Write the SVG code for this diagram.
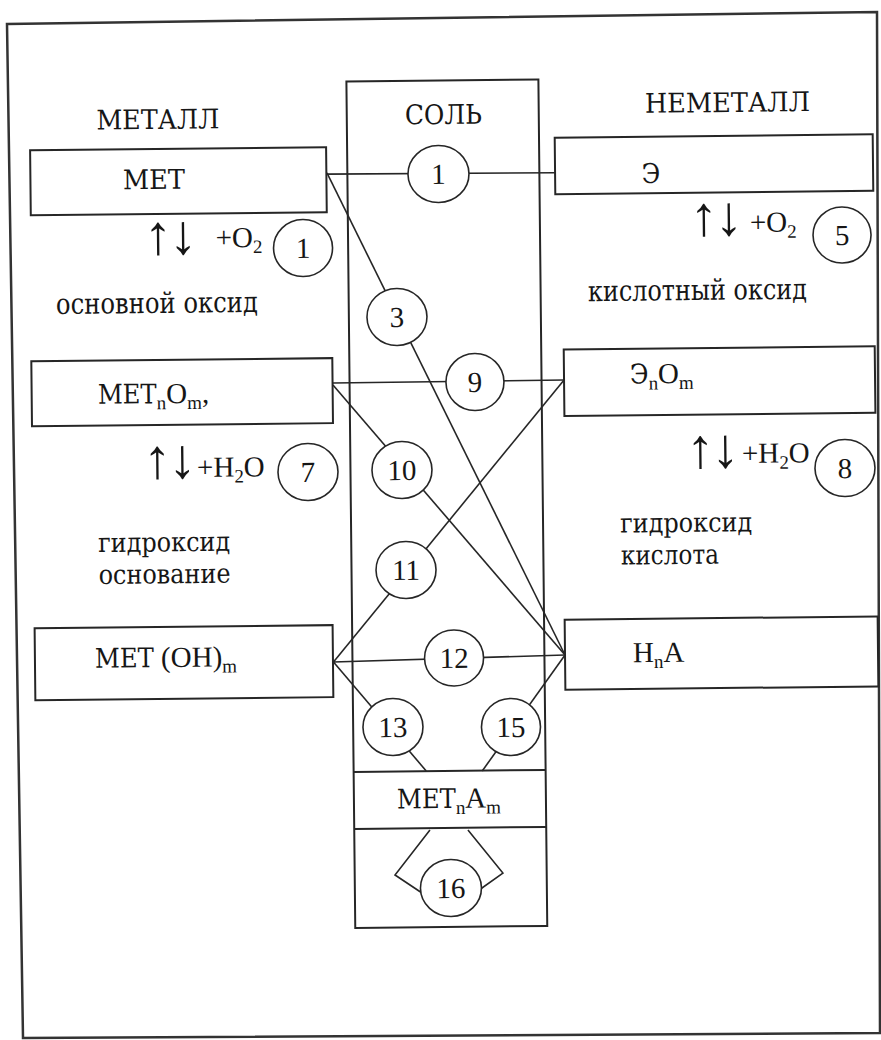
<svg xmlns="http://www.w3.org/2000/svg" width="881" height="1040" viewBox="0 0 881 1040">
<style>
.t{font-family:"Liberation Serif","DejaVu Serif",serif;font-size:29px;fill:#161616}
.cy{font-family:"DejaVu Serif","Liberation Serif",serif;font-stretch:condensed;font-size:27px;fill:#161616}
.lc{font-size:27px}
.lg{font-size:29px}
.m{text-anchor:middle}
.s{font-family:"Liberation Serif",serif;font-size:19px}
.ar{font-family:"Liberation Serif","DejaVu Serif",serif;font-size:56px;fill:#161616;letter-spacing:-3px}
.box{fill:#fff;stroke:#262626;stroke-width:2}
.ln{stroke:#262626;stroke-width:1.6;fill:none}
.c{fill:#fff;stroke:#262626;stroke-width:1.6}
</style>
<rect width="881" height="1040" fill="#fff"/>
<polygon points="7,24 877,12 880,1033 23,1038" fill="none" stroke="#333" stroke-width="2.5"/>
<g transform="rotate(-0.6 440 520)">
  <g id="sol">
    <rect x="351" y="80.5" width="192" height="846.5" fill="none" stroke="#262626" stroke-width="2"/>
    <text class="cy m" x="447.7" y="124" textLength="77" lengthAdjust="spacingAndGlyphs">СОЛЬ</text>
  </g>
  <g id="connectors">
    <line class="ln" x1="330" y1="173" x2="559" y2="174"/>
    <line class="ln" x1="330.6" y1="171.8" x2="563.6" y2="656.3"/>
    <line class="ln" x1="334.4" y1="381.9" x2="565.5" y2="381.3"/>
    <line class="ln" x1="334.4" y1="383.9" x2="563.6" y2="656.3"/>
    <line class="ln" x1="565.5" y1="381.3" x2="332" y2="660.9"/>
    <line class="ln" x1="332" y1="660.9" x2="563.6" y2="656.3"/>
    <line class="ln" x1="332" y1="660.9" x2="423.6" y2="770.8"/>
    <line class="ln" x1="563.6" y1="656.3" x2="479.6" y2="771.4"/>
    <polyline class="ln" points="426.7,829.9 391.3,874.5 424.8,897.4"/>
    <polyline class="ln" points="464.7,830.3 499.2,873.7 472.8,892.1"/>
  </g>
  <g id="met">
    <text class="cy m" x="162" y="126" textLength="123" lengthAdjust="spacingAndGlyphs">МЕТАЛЛ</text>
    <rect class="box" x="34" y="146" width="296" height="65"/>
    <text class="cy m" x="157.5" y="186" textLength="62" lengthAdjust="spacingAndGlyphs">МЕТ</text>
    <text class="ar" x="147" y="251">↑↓</text>
    <text class="t" x="218.5" y="245">+O<tspan class="s" dy="6">2</tspan></text>
    <text class="cy lg m" x="159.2" y="310" textLength="202" lengthAdjust="spacingAndGlyphs">основной оксид</text>
  </g>
  <g id="metox">
    <rect class="box" x="33" y="357" width="301" height="65"/>
    <text class="t" x="99.2" y="400.3"><tspan class="cy">МЕТ</tspan><tspan class="s" dy="6">n</tspan><tspan dy="-6">O</tspan><tspan class="s" dy="6">m</tspan><tspan dy="-6">,</tspan></text>
    <text class="ar" x="144" y="475">↑↓</text>
    <text class="t" x="197.5" y="474.4">+H<tspan class="s" dy="6">2</tspan><tspan dy="-6">O</tspan></text>
    <text class="cy lc" x="98" y="548.5" textLength="132" lengthAdjust="spacingAndGlyphs">гидроксид</text>
    <text class="cy lc" x="98" y="580.5" textLength="132" lengthAdjust="spacingAndGlyphs">основание</text>
  </g>
  <g id="metoh">
    <rect class="box" x="33.5" y="624" width="298" height="72"/>
    <text class="t" x="93.5" y="664.2"><tspan class="cy">МЕТ</tspan> (OH)<tspan class="s" dy="6">m</tspan></text>
  </g>
  <g id="nemet">
    <text class="cy m" x="731.8" y="115" textLength="165" lengthAdjust="spacingAndGlyphs">НЕМЕТАЛЛ</text>
    <rect class="box" x="558.7" y="138.9" width="318" height="56.5"/>
    <text class="cy m" x="654.5" y="185.2">Э</text>
    <text class="ar" x="693" y="238">↑↓</text>
    <text class="t" x="753" y="235.3">+O<tspan class="s" dy="6">2</tspan></text>
    <text class="cy lg m" x="699.8" y="302.7" textLength="219" lengthAdjust="spacingAndGlyphs">кислотный оксид</text>
  </g>
  <g id="nemetox">
    <rect class="box" x="565.5" y="350.9" width="311" height="66.5"/>
    <text class="t" x="631.4" y="385.6"><tspan class="cy">Э</tspan><tspan class="s" dy="6">n</tspan><tspan dy="-6">O</tspan><tspan class="s" dy="6">m</tspan></text>
    <text class="ar" x="687" y="470">↑↓</text>
    <text class="t" x="742.6" y="466.2">+H<tspan class="s" dy="6">2</tspan><tspan dy="-6">O</tspan></text>
    <text class="cy lc" x="620.1" y="534.5" textLength="132" lengthAdjust="spacingAndGlyphs">гидроксид</text>
    <text class="cy lc" x="620.5" y="566.5" textLength="98" lengthAdjust="spacingAndGlyphs">кислота</text>
  </g>
  <g id="acid">
    <rect class="box" x="563.6" y="621" width="313" height="70"/>
    <text class="t" x="631.5" y="664.3">H<tspan class="s" dy="6">n</tspan><tspan dy="-6">A</tspan></text>
  </g>
  <g id="salt">
    <line x1="351" y1="771" x2="543" y2="771" stroke="#262626" stroke-width="2"/>
    <line x1="351" y1="828" x2="543" y2="828" stroke="#262626" stroke-width="2"/>
    <text class="t" x="394" y="808.1"><tspan class="cy">МЕТ</tspan><tspan class="s" dy="6">n</tspan><tspan dy="-6">A</tspan><tspan class="s" dy="6">m</tspan></text>
  </g>
  <g id="n1a"><ellipse class="c" cx="305.9" cy="246.6" rx="29.5" ry="28.5"/><text class="t m" x="305.9" y="256.5">1</text></g>
  <g id="n1b"><ellipse class="c" cx="442.1" cy="174" rx="30.5" ry="28.5"/><text class="t m" x="442.1" y="184">1</text></g>
  <g id="n3"><ellipse class="c" cx="399.1" cy="316.5" rx="30" ry="28.5"/><text class="t m" x="399.1" y="326.5">3</text></g>
  <g id="n5"><ellipse class="c" cx="845" cy="239.2" rx="29" ry="28"/><text class="t m" x="845" y="249.2">5</text></g>
  <g id="n7"><ellipse class="c" cx="308.5" cy="470.6" rx="30" ry="28.5"/><text class="t m" x="308.5" y="480.6">7</text></g>
  <g id="n8"><ellipse class="c" cx="845.5" cy="472.3" rx="30" ry="28.5"/><text class="t m" x="845.5" y="482.3">8</text></g>
  <g id="n9"><ellipse class="c" cx="476.4" cy="382.4" rx="29" ry="28.5"/><text class="t m" x="476.4" y="392.4">9</text></g>
  <g id="n10"><ellipse class="c" cx="402.5" cy="469.6" rx="30" ry="28.5"/><text class="t m" x="402.5" y="479.6">10</text></g>
  <g id="n11"><ellipse class="c" cx="405.5" cy="569.6" rx="30" ry="28.5"/><text class="t m" x="405.5" y="579.6">11</text></g>
  <g id="n12"><ellipse class="c" cx="452.6" cy="658.1" rx="29.5" ry="28"/><text class="t m" x="452.6" y="668.1">12</text></g>
  <g id="n13"><ellipse class="c" cx="390.8" cy="726.5" rx="30" ry="28.5"/><text class="t m" x="390.8" y="736.5">13</text></g>
  <g id="n15"><ellipse class="c" cx="508.8" cy="727.7" rx="29.5" ry="28.5"/><text class="t m" x="508.8" y="737.7">15</text></g>
  <g id="n16"><ellipse class="c" cx="447.1" cy="888.1" rx="30.5" ry="28.5"/><text class="t m" x="447.1" y="898.1">16</text></g>
</g>
</svg>
